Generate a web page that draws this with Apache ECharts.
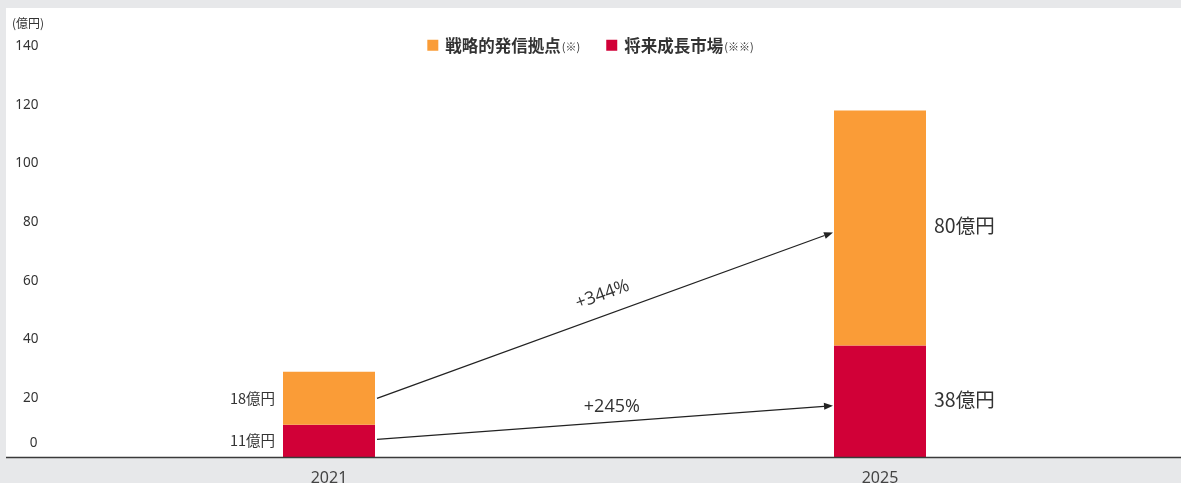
<!DOCTYPE html>
<html>
<head>
<meta charset="utf-8">
<script src="https://cdn.jsdelivr.net/npm/echarts@6/dist/echarts.min.js"></script>
<style>
  html, body { margin: 0; padding: 0; background: #e7e8ea; }
  #chart { width: 1181px; height: 483px; }
</style>
</head>
<body>
<div id="chart"></div>
<script>
// Categories and series values (億円)
const years = ['2021', '2025'];
const strategicHubs = [18, 80];   // 戦略的発信拠点
const growthMarkets = [11, 38];   // 将来成長市場
const yTicks = [0, 20, 40, 60, 80, 100, 120, 140];

// Growth arrows: start/end heights on the value axis and their labels
const arrowFrom = [20, 6];
const arrowTo = [76.5, 17.5];
const growthLabels = ['+344%', '+245%'];

const ORANGE = '#fa9c37';
const RED = '#d10037';
const TEXT = '#333333';
const FONT = '"Noto Sans CJK JP", "Noto Sans", sans-serif';
const BAR_W = 92;

const chart = echarts.init(document.getElementById('chart'));

function valueItems(values, sideStyles) {
  return values.map((v, i) => ({
    value: v,
    label: sideStyles[i]
  }));
}
const leftLabel = { show: true, position: 'left', distance: 8, fontSize: 14.5, color: TEXT, fontFamily: FONT, formatter: '{c}億円' };
const rightLabel = { show: true, position: 'right', distance: 8, fontSize: 19.5, color: TEXT, fontFamily: FONT, formatter: '{c}億円', offset: [0, -2] };

chart.setOption({
  animation: false,
  backgroundColor: 'transparent',
  textStyle: { fontFamily: FONT },
  title: {
    text: '(億円)',
    left: 7, top: 12,
    textStyle: { fontSize: 12, fontWeight: 'normal', color: TEXT, fontFamily: FONT }
  },
  legend: {
    top: 32, left: 'center',
    itemWidth: 11, itemHeight: 11, itemGap: 26,
    icon: 'rect',
    data: ['戦略的発信拠点', '将来成長市場'],
    formatter: name => name === '戦略的発信拠点' ? '{a|' + name + '}{b|(※)}' : '{a|' + name + '}{b|(※※)}',
    textStyle: {
      color: TEXT,
      rich: {
        a: { fontSize: 16.5, fontWeight: 'bold', color: TEXT, fontFamily: FONT, padding: [0, 0, 0, 2] },
        b: { fontSize: 11, color: TEXT, fontFamily: FONT, padding: [4, 0, 0, 1] }
      }
    }
  },
  grid: { left: 53.5, right: 25.5, top: 46, bottom: 26, containLabel: false, outerBoundsMode: 'none' },
  xAxis: {
    type: 'category',
    data: years,
    axisLine: { show: false },
    axisTick: { show: false },
    axisLabel: { margin: 13, fontSize: 16, color: '#444', fontFamily: '"Noto Sans", sans-serif' }
  },
  yAxis: {
    type: 'value',
    min: yTicks[0], max: yTicks[yTicks.length - 1], interval: 20,
    splitLine: { show: false },
    axisLine: { show: false },
    axisTick: { show: false },
    axisLabel: {
      margin: 15, fontSize: 13.5, color: TEXT, fontFamily: '"Noto Sans", sans-serif',
      formatter: v => v === 0 ? '{z|0}' : String(v),
      rich: { z: { fontSize: 13.5, color: TEXT, fontFamily: '"Noto Sans", sans-serif', padding: [0, 1, 28, 0] } }
    }
  },
  series: [
    {
      name: '将来成長市場', type: 'bar', stack: 'total', barWidth: BAR_W,
      itemStyle: { color: RED },
      data: valueItems(growthMarkets, [leftLabel, rightLabel]),
      z: 3
    },
    {
      name: '戦略的発信拠点', type: 'bar', stack: 'total', barWidth: BAR_W,
      itemStyle: { color: ORANGE },
      data: valueItems(strategicHubs, [leftLabel, rightLabel]),
      z: 3
    }
  ]
});

// Panel background, baseline and growth arrows placed with the chart's own scales
function drawOverlay() {
  const w = chart.getWidth();
  const base = chart.convertToPixel({ gridIndex: 0 }, [years[0], 0]);
  const elements = [
    { type: 'rect', z: -10, silent: true, shape: { x: 6, y: 8, width: w - 6, height: base[1] - 8 }, style: { fill: '#ffffff' } },
    { type: 'line', z: 10, silent: true, shape: { x1: 6, y1: base[1] + 0.5, x2: w, y2: base[1] + 0.5 }, style: { stroke: '#3a3a3a', lineWidth: 1.4 } }
  ];
  arrowFrom.forEach((fromVal, i) => {
    const p0 = chart.convertToPixel({ gridIndex: 0 }, [years[0], fromVal]);
    const p1 = chart.convertToPixel({ gridIndex: 0 }, [years[1], arrowTo[i]]);
    const x0 = p0[0] + BAR_W / 2 + 2, y0 = p0[1];
    const x1 = p1[0] - BAR_W / 2 - 1, y1 = p1[1];
    const ang = Math.atan2(y1 - y0, x1 - x0);
    const hl = 9, hw = 3.5;
    const bx = x1 - hl * Math.cos(ang), by = y1 - hl * Math.sin(ang);
    const nx = -Math.sin(ang) * hw, ny = Math.cos(ang) * hw;
    elements.push({ type: 'line', z: 10, silent: true, shape: { x1: x0, y1: y0, x2: bx, y2: by }, style: { stroke: '#222', lineWidth: 1.3 } });
    elements.push({ type: 'polygon', z: 10, silent: true, shape: { points: [[x1, y1], [bx + nx, by + ny], [bx - nx, by - ny]] }, style: { fill: '#222' } });
    const mx = (x0 + x1) / 2, my = (y0 + y1) / 2;
    const off = i === 0 ? 22 : 16;
    const shiftX = i === 0 ? 5 : 8;
    const rot = i === 0 ? -ang : 0;
    elements.push({
      type: 'text', z: 10, silent: true,
      x: mx + shiftX + Math.sin(ang) * off, y: my - Math.cos(ang) * off,
      rotation: rot,
      style: { text: growthLabels[i], fontSize: 18, fill: TEXT, fontFamily: '"Open Sans", "Noto Sans", sans-serif', align: 'center', verticalAlign: 'middle' }
    });
  });
  chart.setOption({ graphic: { elements } });
}
drawOverlay();
</script>
</body>
</html>
